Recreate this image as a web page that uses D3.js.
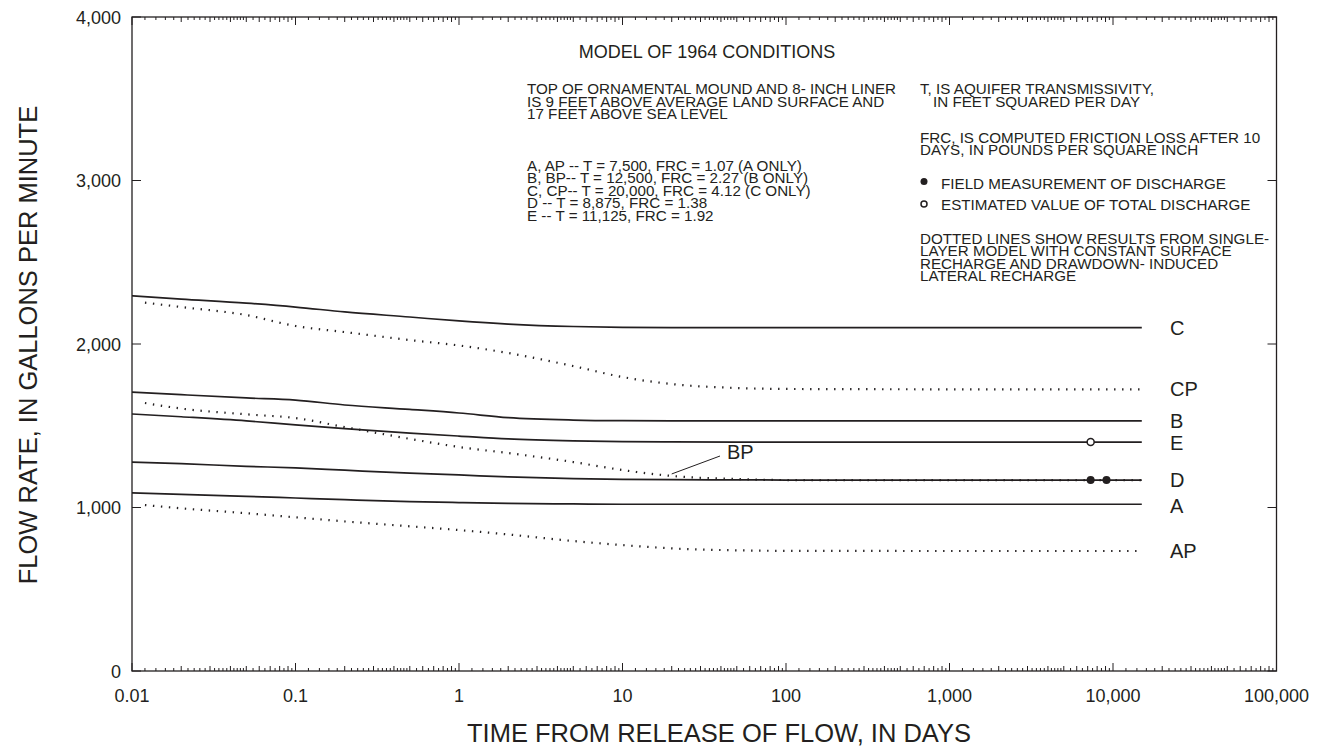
<!DOCTYPE html>
<html>
<head>
<meta charset="utf-8">
<script src="https://cdn.jsdelivr.net/npm/d3@7"></script>
<style>
  body { margin: 0; background: #fff; }
  text { font-family: "Liberation Sans", Arial, Helvetica, sans-serif; fill: #231f20; }
</style>
</head>
<body>
<svg id="chart" width="1328" height="756"></svg>
<script>
// Time samples (days) for the model curves
const solidTimes  = [0.01, 0.02, 0.05, 0.1, 0.2, 0.5, 1, 2, 5, 10, 20, 50, 100, 1000, 15000];
const dottedTimes = [0.012, 0.02, 0.05, 0.1, 0.2, 0.5, 1, 2, 5, 10, 20, 50, 100, 1000, 15000];

// Two-layer model results, gallons per minute
const flowA = [1090, 1080, 1068, 1058, 1048, 1036, 1030, 1025, 1022, 1020, 1020, 1020, 1020, 1020, 1020];
const flowB = [1706, 1690, 1670, 1657, 1627, 1600, 1578, 1550, 1535, 1531, 1530, 1530, 1530, 1530, 1530];
const flowC = [2295, 2275, 2250, 2226, 2196, 2165, 2141, 2122, 2107, 2102, 2100, 2100, 2100, 2100, 2100];
const flowD = [1278, 1268, 1252, 1242, 1228, 1210, 1199, 1187, 1176, 1172, 1170, 1169, 1168, 1168, 1168];
const flowE = [1572, 1555, 1530, 1505, 1482, 1455, 1437, 1420, 1408, 1403, 1401, 1400, 1400, 1400, 1400];

// Single-layer model results (dotted), gallons per minute
const flowAP = [1015, 995, 965, 940, 915, 885, 862, 835, 795, 770, 750, 738, 735, 734, 734];
const flowBP = [1639, 1605, 1570, 1547, 1492, 1420, 1370, 1333, 1278, 1229, 1193, 1174, 1168, 1168, 1168];
const flowCP = [2253, 2226, 2177, 2110, 2073, 2024, 1991, 1945, 1865, 1798, 1755, 1731, 1725, 1723, 1723];

// Discharge observations
const fieldTimes = [7300, 9125];
const fieldFlows = [1168, 1168];
const estimatedTimes = [7300];
const estimatedFlows = [1400];

// Axis ticks
const xTickValues = [0.01, 0.1, 1, 10, 100, 1000, 10000, 100000];
const xTickLabels = ["0.01", "0.1", "1", "10", "100", "1,000", "10,000", "100,000"];
const yTickValues = [0, 1000, 2000, 3000, 4000];
const yTickLabels = ["0", "1,000", "2,000", "3,000", "4,000"];

// Log-paper subdivisions within a decade (multiples of the decade start)
const minorSteps = [1.2, 1.4, 1.6, 1.8, 2.2, 2.4, 2.6, 2.8, 3.2, 3.4, 3.6, 3.8, 4.2, 4.4, 4.6, 4.8, 5.5, 6.5, 7.5, 8.5, 9.5];
const midSteps = [2, 3, 4, 5, 6, 7, 8, 9];

const svg = d3.select("#chart");
const plotLeft = 132, plotRight = 1276.5, plotTop = 17, plotBottom = 671;

const x = d3.scaleLog().domain([0.01, 100000]).range([plotLeft, plotRight]);
const y = d3.scaleLinear().domain([0, 4000]).range([plotBottom, plotTop]);

const ink = "#231f20";

// Frame
svg.append("rect")
  .attr("x", plotLeft).attr("y", plotTop)
  .attr("width", plotRight - plotLeft).attr("height", plotBottom - plotTop)
  .attr("fill", "none").attr("stroke", ink).attr("stroke-width", 1.3);

// Inward log ticks along bottom and top edges
const tickSet = [];
for (let e = -2; e < 5; e++) {
  const base = Math.pow(10, e);
  minorSteps.forEach(m => tickSet.push({ v: base * m, len: 3 }));
  midSteps.forEach(m => tickSet.push({ v: base * m, len: 5 }));
}
xTickValues.forEach(v => tickSet.push({ v: v, len: 8 }));

const ticks = svg.append("g").attr("stroke", ink).attr("stroke-width", 1);
ticks.selectAll("line.bt").data(tickSet).join("line").attr("class", "bt")
  .attr("x1", d => x(d.v)).attr("x2", d => x(d.v))
  .attr("y1", plotBottom).attr("y2", d => plotBottom - d.len);
ticks.selectAll("line.tt").data(tickSet).join("line").attr("class", "tt")
  .attr("x1", d => x(d.v)).attr("x2", d => x(d.v))
  .attr("y1", plotTop).attr("y2", d => plotTop + d.len);
ticks.selectAll("line.lt").data(yTickValues).join("line").attr("class", "lt")
  .attr("x1", plotLeft).attr("x2", plotLeft + 9)
  .attr("y1", d => y(d)).attr("y2", d => y(d));
ticks.selectAll("line.rt").data(yTickValues).join("line").attr("class", "rt")
  .attr("x1", plotRight).attr("x2", plotRight - 9)
  .attr("y1", d => y(d)).attr("y2", d => y(d));

// Tick labels
svg.append("g").selectAll("text").data(xTickValues).join("text")
  .attr("x", d => x(d)).attr("y", 702)
  .attr("text-anchor", "middle").attr("font-size", 18)
  .text((d, i) => xTickLabels[i]);
svg.append("g").selectAll("text").data(yTickValues).join("text")
  .attr("x", 121).attr("y", d => y(d) + 6.5)
  .attr("text-anchor", "end").attr("font-size", 18)
  .text((d, i) => yTickLabels[i]);

// Axis titles
svg.append("text")
  .attr("x", 719).attr("y", 742)
  .attr("text-anchor", "middle").attr("font-size", 25.5)
  .text("TIME FROM RELEASE OF FLOW, IN DAYS");
svg.append("text")
  .attr("transform", "translate(37,345) rotate(-90)")
  .attr("text-anchor", "middle").attr("font-size", 25.5)
  .text("FLOW RATE, IN GALLONS PER MINUTE");

// Curves
const line = d3.line()
  .x(d => x(d[0])).y(d => y(d[1]))
  .curve(d3.curveMonotoneX);

const solidSeries = [flowC, flowB, flowE, flowD, flowA];
const dottedSeries = [flowCP, flowBP, flowAP];

svg.append("g").selectAll("path").data(solidSeries).join("path")
  .attr("d", s => line(solidTimes.map((t, i) => [t, s[i]])))
  .attr("fill", "none").attr("stroke", ink).attr("stroke-width", 1.7);

svg.append("g").selectAll("path").data(dottedSeries).join("path")
  .attr("d", s => line(dottedTimes.map((t, i) => [t, s[i]])))
  .attr("fill", "none").attr("stroke", ink).attr("stroke-width", 2.2)
  .attr("stroke-dasharray", "1.4 6.6");

// Curve labels at the right end
const curveLabels = [
  { name: "C", v: flowC[flowC.length - 1] },
  { name: "CP", v: flowCP[flowCP.length - 1] },
  { name: "B", v: flowB[flowB.length - 1] },
  { name: "E", v: flowE[flowE.length - 1] },
  { name: "D", v: flowD[flowD.length - 1] },
  { name: "A", v: flowA[flowA.length - 1] },
  { name: "AP", v: flowAP[flowAP.length - 1] }
];
const labelNudge = { C: 0, CP: 0, B: 0, E: 1, D: 0, A: 2, AP: 0 };
svg.append("g").selectAll("text").data(curveLabels).join("text")
  .attr("x", 1170).attr("y", d => y(d.v) + 7.2 + labelNudge[d.name])
  .attr("font-size", 20)
  .text(d => d.name);

// BP label with leader
svg.append("line")
  .attr("x1", x(20)).attr("y1", y(flowBP[10]) - 2)
  .attr("x2", 720).attr("y2", 456)
  .attr("stroke", ink).attr("stroke-width", 1);
svg.append("text").attr("x", 727).attr("y", 459).attr("font-size", 20).text("BP");

// Observations
svg.append("g").selectAll("circle").data(fieldTimes).join("circle")
  .attr("cx", d => x(d)).attr("cy", (d, i) => y(fieldFlows[i]))
  .attr("r", 4).attr("fill", ink);
svg.append("g").selectAll("circle").data(estimatedTimes).join("circle")
  .attr("cx", d => x(d)).attr("cy", (d, i) => y(estimatedFlows[i]))
  .attr("r", 3.5).attr("fill", "#fff").attr("stroke", ink).attr("stroke-width", 1.5);

// Annotations
const note = svg.append("g").attr("font-size", 15.2);
svg.append("text").attr("x", 707).attr("y", 58).attr("text-anchor", "middle")
  .attr("font-size", 18).text("MODEL OF 1964 CONDITIONS");

const block1 = [
  "TOP OF ORNAMENTAL MOUND AND 8- INCH LINER",
  "IS 9 FEET ABOVE AVERAGE LAND SURFACE AND",
  "17 FEET ABOVE SEA LEVEL"
];
note.selectAll("text.b1").data(block1).join("text").attr("class", "b1")
  .attr("x", 527).attr("y", (d, i) => 94 + i * 12.5).text(d => d);

const block2 = [
  "A, AP -- T = 7,500, FRC = 1.07 (A ONLY)",
  "B, BP-- T = 12,500, FRC = 2.27 (B ONLY)",
  "C, CP-- T = 20,000, FRC = 4.12 (C ONLY)",
  "D -- T = 8,875, FRC = 1.38",
  "E -- T = 11,125, FRC = 1.92"
];
note.selectAll("text.b2").data(block2).join("text").attr("class", "b2")
  .attr("x", 527).attr("y", (d, i) => 170.5 + i * 12.5).text(d => d);

const block3 = [
  { t: "T, IS AQUIFER TRANSMISSIVITY,", x: 920, y: 94 },
  { t: "IN FEET SQUARED PER DAY", x: 933, y: 106.5 },
  { t: "FRC, IS COMPUTED FRICTION LOSS AFTER 10", x: 920, y: 142.5 },
  { t: "DAYS, IN POUNDS PER SQUARE INCH", x: 920, y: 155 },
  { t: "FIELD MEASUREMENT OF DISCHARGE", x: 941, y: 188.5 },
  { t: "ESTIMATED VALUE OF TOTAL DISCHARGE", x: 941, y: 209.5 },
  { t: "DOTTED LINES SHOW RESULTS FROM SINGLE-", x: 920, y: 243.5 },
  { t: "LAYER MODEL WITH CONSTANT SURFACE", x: 920, y: 256 },
  { t: "RECHARGE AND DRAWDOWN- INDUCED", x: 920, y: 268.5 },
  { t: "LATERAL RECHARGE", x: 920, y: 281 }
];
note.selectAll("text.b3").data(block3).join("text").attr("class", "b3")
  .attr("x", d => d.x).attr("y", d => d.y).text(d => d.t);

svg.append("circle").attr("cx", 924).attr("cy", 181.5).attr("r", 3.5).attr("fill", ink);
svg.append("circle").attr("cx", 924).attr("cy", 204).attr("r", 3).attr("fill", "#fff")
  .attr("stroke", ink).attr("stroke-width", 1.5);
</script>
</body>
</html>
